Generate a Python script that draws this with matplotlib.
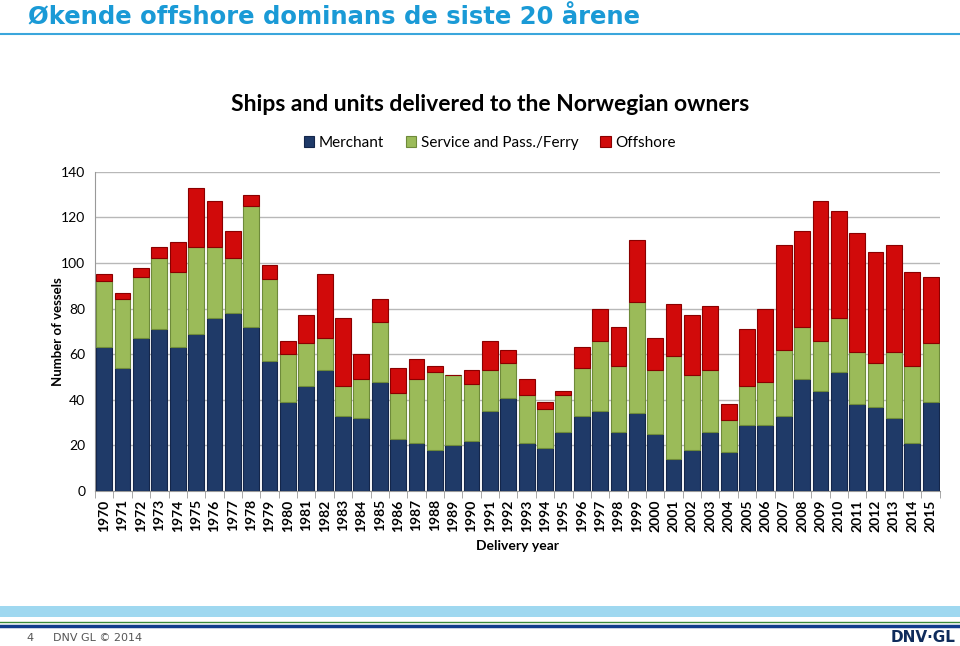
import matplotlib.pyplot as plt
import numpy as np
from matplotlib.patches import Rectangle
from matplotlib.lines import Line2D

years = list(range(1970, 2016))
merchant = [63, 54, 67, 71, 63, 69, 76, 78, 72, 57, 39, 46, 53, 33, 32, 48, 23, 21, 18, 20,
            22, 35, 41, 21, 19, 26, 33, 35, 26, 34, 25, 14, 18, 26, 17, 29, 29, 33, 49, 44,
            52, 38, 37, 32, 21, 39]
service = [29, 30, 27, 31, 33, 38, 31, 24, 53, 36, 21, 19, 14, 13, 17, 26, 20, 28, 34, 31,
           25, 18, 15, 21, 17, 16, 21, 31, 29, 49, 28, 45, 33, 27, 14, 17, 19, 29, 23, 22,
           24, 23, 19, 29, 34, 26]
offshore = [3, 3, 4, 5, 13, 26, 20, 12, 5, 6, 6, 12, 28, 30, 11, 10, 11, 9, 3, 0,
            6, 13, 6, 7, 3, 2, 9, 14, 17, 27, 14, 23, 26, 28, 7, 25, 32, 46, 42, 61,
            47, 52, 49, 47, 41, 29]
series_names = ["Merchant", "Service and Pass./Ferry", "Offshore"]

colors = ["#1f3a68", "#9bbb59", "#d10a0a"]
edges = ["#14264a", "#6e8a3a", "#8a0000"]

fig = plt.figure(figsize=(9.6, 6.46), dpi=100)

# slide title + line
fig.text(0.029, 0.991, "Økende offshore dominans de siste 20 årene", fontsize=17.5,
         fontweight='bold', color='#1a9ad6', family='DejaVu Sans', va='top')
fig.add_artist(Line2D([0, 1], [0.948, 0.948], color='#3aa6dc', lw=1.5))

ax = fig.add_axes([0.099, 0.240, 0.880, 0.494])
x = np.arange(len(years))
w = 0.86
bottom = np.zeros(len(years))
for vals, c, ec, name in zip([merchant, service, offshore], colors, edges, series_names):
    ax.bar(x, vals, w, bottom=bottom, color=c, edgecolor=ec, linewidth=0.8, label=name, zorder=3)
    bottom = bottom + np.array(vals)

ax.set_xlim(-0.5, len(years) - 0.5)
ax.set_ylim(0, 140)
ax.set_yticks(range(0, 141, 20))
ax.grid(axis='y', color='#b8b8b8', lw=1, zorder=0)
ax.set_xticks(x)
ax.set_xticklabels([str(y) for y in years], rotation=90, fontsize=10, fontweight='bold',
                   family='Lato')
ax.set_xticks(np.arange(-0.5, len(years), 1), minor=True)
ax.tick_params(axis='x', which='major', length=0, pad=6)
ax.tick_params(axis='x', which='minor', length=5, color='#999999')
ax.tick_params(axis='y', length=0, labelsize=10, pad=7)
for lab in ax.get_yticklabels():
    lab.set_family('Lato')
for s in ['top', 'right']:
    ax.spines[s].set_visible(False)
for s in ['left', 'bottom']:
    ax.spines[s].set_color('#999999')

ax.set_ylabel("Number of vessels", fontsize=9.5, fontweight='bold', family='Lato', labelpad=-2)
ax.set_xlabel("Delivery year", fontsize=10, fontweight='bold', family='Lato', labelpad=6)

fig.text(0.511, 0.838, "Ships and units delivered to the Norwegian owners", fontsize=16.5,
         fontweight='bold', family='Lato', ha='center', va='center')
leg = fig.legend(loc='center', bbox_to_anchor=(0.51, 0.779), ncol=3, frameon=False,
                 handlelength=0.7, handleheight=0.7, columnspacing=1.4,
                 handletextpad=0.3, prop={'family': 'Lato', 'size': 11})

# footer bands
fig.add_artist(Rectangle((0, 1 - 617 / 646), 1, 11 / 646, color='#9fd8f0', lw=0))
fig.add_artist(Line2D([0, 1], [1 - 622 / 646] * 2, color='#3a8a3a', lw=1))
fig.add_artist(Line2D([0, 1], [1 - 625.5 / 646] * 2, color='#0f3c8c', lw=2.5))
fig.text(0.028, 1 - 638 / 646, "4", fontsize=8, color='#555555', va='center')
fig.text(0.055, 1 - 638 / 646, "DNV GL © 2014", fontsize=8, color='#555555', va='center')
fig.text(0.995, 1 - 638 / 646, "DNV·GL", fontsize=11, fontweight='bold', color='#0f2b5b',
         va='center', ha='right')

fig.savefig("out.png", dpi=100)
